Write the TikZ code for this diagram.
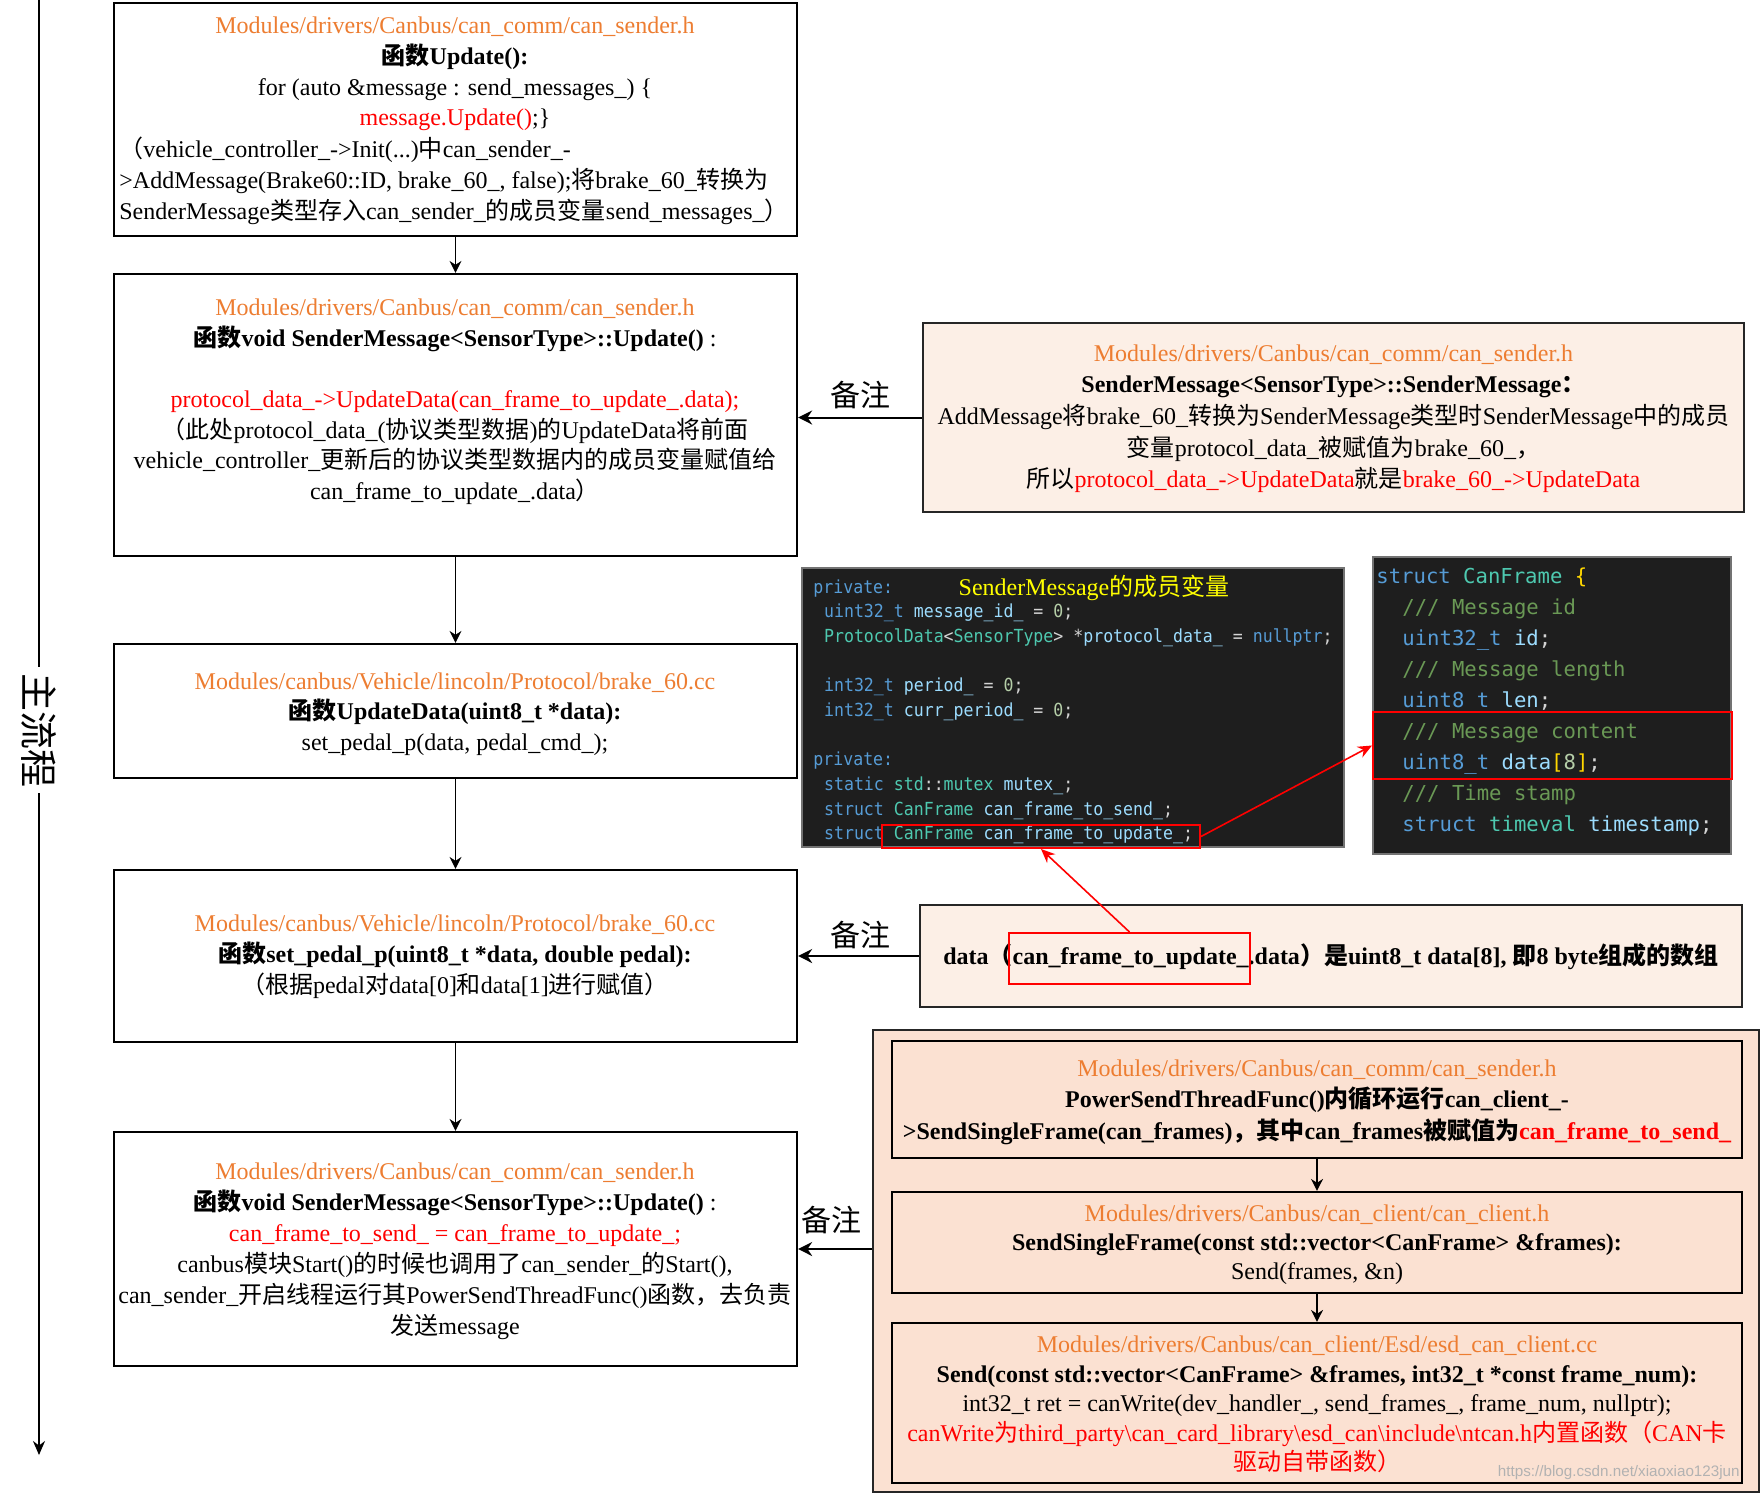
\documentclass[tikz,border=0pt]{standalone}
\usepackage{fontspec}
\usetikzlibrary{arrows.meta,fit}
\setmainfont{Liberation Serif}
\newfontfamily\cjkfont{Noto Sans CJK SC}
\newfontfamily\codefontA{DejaVu Sans Mono}[FakeStretch=0.92]
\newfontfamily\codefontB{DejaVu Sans Mono}
\newfontfamily\wmfont{Liberation Sans}
\newcommand\zh[1]{{\cjkfont #1}}

\definecolor{pathor}{HTML}{ED7D31}
\definecolor{noteA}{RGB}{252,239,230}
\definecolor{outerfill}{RGB}{251,225,210}
\definecolor{codebg}{HTML}{1E1E1E}
\definecolor{ckw}{HTML}{569CD6}
\definecolor{cty}{HTML}{4EC9B0}
\definecolor{cid}{HTML}{9CDCFE}
\definecolor{cnum}{HTML}{B5CEA8}
\definecolor{cpun}{HTML}{D4D4D4}
\definecolor{ccom}{HTML}{6A9955}
\definecolor{cbr}{HTML}{FFD700}
\definecolor{ctitle}{RGB}{255,255,0}

\tikzset{
  box/.style={draw=black, line width=1.1pt, fill=white, inner sep=0pt},
  notebox/.style={draw=black!85, line width=1.1pt, fill=noteA, inner sep=0pt},
  outerbox/.style={draw=black!85, line width=1.1pt, fill=outerfill, inner sep=0pt},
  innerbox/.style={draw=black, line width=1.1pt, fill=outerfill, inner sep=0pt},
  codebox/.style={draw=black!55, line width=0.6pt, fill=codebg, inner sep=0pt},
  redbox/.style={draw=red, line width=1pt, inner sep=0pt},
  arr/.style={-{Stealth[length=6pt,width=6pt]}, line width=0.75pt},
  notearr/.style={-{Stealth[length=7pt,width=7pt]}, line width=1pt},
  redarr/.style={-{Stealth[length=7pt,width=6pt]}, draw=red, line width=0.8pt},
  mainarr/.style={-{Stealth[length=7pt,width=6pt]}, line width=1pt},
  txt/.style={align=center, inner sep=0pt},
  fs/.style={font={\fontsize{12}{#1}\selectfont}},
  notelbl/.style={inner sep=0pt, font={\cjkfont\fontsize{15}{18}\selectfont}},
  flowlbl/.style={inner sep=3pt, fill=white, font={\cjkfont\fontsize{19}{22}\selectfont}},
  codeA/.style={anchor=base west, inner sep=0pt, text=cpun, font={\codefontA\fontsize{9}{11}\selectfont}},
  codeB/.style={anchor=base west, inner sep=0pt, text=cpun, font={\codefontB\fontsize{10.3}{12}\selectfont}},
}

\begin{document}
\begin{tikzpicture}[x=0.5pt,y=-0.5pt]
\useasboundingbox (0,0) rectangle (1762,1495);

% ---------------- main flow line ----------------
\coordinate (mtop) at (39,0);
\coordinate (mbot) at (39,1455);
\draw[mainarr] (mtop) -- (mbot);
\node[flowlbl, rotate=-90] (flow) at (39,730) {主流程};

% ---------------- main boxes ----------------
\node[box, fit={(114,3) (797,236)}] (b1) {};
\node[box, fit={(114,274) (797,556)}] (b2) {};
\node[box, fit={(114,644) (797,778)}] (b3) {};
\node[box, fit={(114,870) (797,1042)}] (b4) {};
\node[box, fit={(114,1132) (797,1366)}] (b5) {};

\draw[arr] (b1.south) -- (b2.north);
\draw[arr] (b2.south) -- (b3.north);
\draw[arr] (b3.south) -- (b4.north);
\draw[arr] (b4.south) -- (b5.north);

\node[txt, fs=15.35pt] (t1a) at (455,74) {\textcolor{pathor}{Modules/drivers/Canbus/can\_comm/can\_sender.h}\\
\textbf{\zh{函数}Update():}\\
for (auto \&message : send\_messages\_) \{\\
\textcolor{red}{message.Update()};\}};
\node[align=left, inner sep=0pt, fs=15.35pt, anchor=west] (t1b) at (119,180.7) {\zh{（}vehicle\_controller\_->Init(...)\zh{中}can\_sender\_-\\
>AddMessage(Brake60::ID, brake\_60\_, false);\zh{将}brake\_60\_\zh{转换为}\\
SenderMessage\zh{类型存入}can\_sender\_\zh{的成员变量}send\_messages\_\zh{）}};

\node[txt, fs=15.3pt] (t2) at (455,402) {\textcolor{pathor}{Modules/drivers/Canbus/can\_comm/can\_sender.h}\\
\textbf{\zh{函数}void SenderMessage<SensorType>::Update()} :\\
\mbox{}\\
\textcolor{red}{protocol\_data\_->UpdateData(can\_frame\_to\_update\_.data);}\\
\zh{（此处}protocol\_data\_(\zh{协议类型数据})\zh{的}UpdateData\zh{将前面}\\
vehicle\_controller\_\zh{更新后的协议类型数据内的成员变量赋值给}\\
can\_frame\_to\_update\_.data\zh{）}};

\node[txt, fs=15.25pt] (t3) at (455,714) {\textcolor{pathor}{Modules/canbus/Vehicle/lincoln/Protocol/brake\_60.cc}\\
\textbf{\zh{函数}UpdateData(uint8\_t *data):}\\
set\_pedal\_p(data, pedal\_cmd\_);};

\node[txt, fs=15.5pt] (t4) at (455,957) {\textcolor{pathor}{Modules/canbus/Vehicle/lincoln/Protocol/brake\_60.cc}\\
\textbf{\zh{函数}set\_pedal\_p(uint8\_t *data, double pedal):}\\
\zh{（根据}pedal\zh{对}data[0]\zh{和}data[1]\zh{进行赋值）}};

\node[txt, fs=15.5pt] (t5) at (455,1251) {\textcolor{pathor}{Modules/drivers/Canbus/can\_comm/can\_sender.h}\\
\textbf{\zh{函数}void SenderMessage<SensorType>::Update()} :\\
\textcolor{red}{can\_frame\_to\_send\_ = can\_frame\_to\_update\_;}\\
canbus\zh{模块}Start()\zh{的时候也调用了}can\_sender\_\zh{的}Start(),\\
can\_sender\_\zh{开启线程运行其}PowerSendThreadFunc()\zh{函数，去负责}\\
\zh{发送}message};

% ---------------- note A ----------------
\node[notebox, fit={(923,323) (1744,512)}] (nA) {};
\node[txt, fs=15.85pt] (tA) at (1333.5,418.7) {\textcolor{pathor}{Modules/drivers/Canbus/can\_comm/can\_sender.h}\\
\textbf{SenderMessage<SensorType>::SenderMessage\zh{：}}\\
AddMessage\zh{将}brake\_60\_\zh{转换为}SenderMessage\zh{类型时}SenderMessage\zh{中的成员}\\
\zh{变量}protocol\_data\_\zh{被赋值为}brake\_60\_\zh{，}\\
\zh{所以}\textcolor{red}{protocol\_data\_->UpdateData}\zh{就是}\textcolor{red}{brake\_60\_->UpdateData}};
\draw[notearr] (nA.west) -- (nA.west -| b2.east);
\node[notelbl] (lA) at (860,395) {备注};

% ---------------- code box 1 ----------------
\node[codebox, fit={(802,568) (1344,847)}] (code1) {};
\node[codeA] (c1l0) at (813,593.2) {\textcolor{ckw}{private:}};
\node[anchor=center, inner sep=0pt, text=ctitle, font={\fontsize{12}{14}\selectfont}] (c1title) at (1094,588) {SenderMessage\zh{的成员变量}};
\node[codeA] (c1l1) at (823.7,617.8) {\textcolor{ckw}{uint32\_t} \textcolor{cid}{message\_id\_} = \textcolor{cnum}{0};};
\node[codeA] (c1l2) at (823.7,642.5) {\textcolor{cty}{ProtocolData}<\textcolor{cty}{SensorType}> *\textcolor{cid}{protocol\_data\_} = \textcolor{ckw}{nullptr};};
\node[codeA] (c1l4) at (823.7,691.8) {\textcolor{ckw}{int32\_t} \textcolor{cid}{period\_} = \textcolor{cnum}{0};};
\node[codeA] (c1l5) at (823.7,716.5) {\textcolor{ckw}{int32\_t} \textcolor{cid}{curr\_period\_} = \textcolor{cnum}{0};};
\node[codeA] (c1l7) at (813,765.8) {\textcolor{ckw}{private:}};
\node[codeA] (c1l8) at (823.7,790.5) {\textcolor{ckw}{static} \textcolor{cty}{std}::\textcolor{cty}{mutex} \textcolor{cid}{mutex\_};};
\node[codeA] (c1l9) at (823.7,815.1) {\textcolor{ckw}{struct} \textcolor{cty}{CanFrame} \textcolor{cid}{can\_frame\_to\_send\_};};
\node[codeA] (c1l10) at (823.7,839.7) {\textcolor{ckw}{struct} \textcolor{cty}{CanFrame} \textcolor{cid}{can\_frame\_to\_update\_};};
\node[redbox, fit={(882,825) (1200,848)}] (r1) {};

% ---------------- code box 2 ----------------
\node[codebox, fit={(1373,557) (1731,854)}] (code2) {};
\node[codeB] (c2l0) at (1376,583) {\textcolor{ckw}{struct} \textcolor{cty}{CanFrame} \textcolor{cbr}{\{}};
\node[codeB] (c2l1) at (1402,614) {\textcolor{ccom}{/// Message id}};
\node[codeB] (c2l2) at (1402,645) {\textcolor{ckw}{uint32\_t} \textcolor{cid}{id};};
\node[codeB] (c2l3) at (1402,676) {\textcolor{ccom}{/// Message length}};
\node[codeB] (c2l4) at (1402,707) {\textcolor{ckw}{uint8\_t} \textcolor{cid}{len};};
\node[codeB] (c2l5) at (1402,738) {\textcolor{ccom}{/// Message content}};
\node[codeB] (c2l6) at (1402,769) {\textcolor{ckw}{uint8\_t} \textcolor{cid}{data}\textcolor{cbr}{[}\textcolor{cnum}{8}\textcolor{cbr}{]};};
\node[codeB] (c2l7) at (1402,800) {\textcolor{ccom}{/// Time stamp}};
\node[codeB] (c2l8) at (1402,831) {\textcolor{ckw}{struct} \textcolor{cty}{timeval} \textcolor{cid}{timestamp};};
\node[redbox, fit={(1373,712) (1732,779)}] (r2) {};
\draw[redarr] (r1.east) -- (r2.west);

% ---------------- note B ----------------
\node[notebox, fit={(920,905) (1742,1007)}] (nB) {};
\node[inner sep=0pt, font={\fontsize{12}{14}\selectfont\bfseries}] (tB) at (1331,957) {data\zh{（}can\_frame\_to\_update\_.data\zh{）是}uint8\_t data[8], \zh{即}8 byte\zh{组成的数组}};
\node[redbox, fit={(1009,933) (1250,984)}] (rB) {};
\draw[redarr] (rB.north) -- (r1.south);
\draw[notearr] (nB.west) -- (nB.west -| b4.east);
\node[notelbl] (lB) at (860,935) {备注};

% ---------------- outer group ----------------
\node[outerbox, fit={(873,1030) (1759,1492)}] (outer) {};
\node[innerbox, fit={(892,1041) (1742,1158)}] (i1) {};
\node[innerbox, fit={(892,1192) (1742,1293)}] (i2) {};
\node[innerbox, fit={(892,1323) (1742,1483)}] (i3) {};
\draw[arr] (i1.south) -- (i2.north);
\draw[arr] (i2.south) -- (i3.north);

\node[txt, fs=15.8pt] (ti1) at (1317,1102) {\textcolor{pathor}{Modules/drivers/Canbus/can\_comm/can\_sender.h}\\
\textbf{PowerSendThreadFunc()\zh{内循环运行}can\_client\_-}\\
\textbf{>SendSingleFrame(can\_frames)\zh{，其中}can\_frames\zh{被赋值为}\textcolor{red}{can\_frame\_to\_send\_}}};
\node[txt, fs=14.4pt] (ti2) at (1317,1245) {\textcolor{pathor}{Modules/drivers/Canbus/can\_client/can\_client.h}\\
\textbf{SendSingleFrame(const std::vector<CanFrame> \&frames):}\\
Send(frames, \&n)};
\node[txt, fs=14.8pt] (ti3) at (1317,1404.5) {\textcolor{pathor}{Modules/drivers/Canbus/can\_client/Esd/esd\_can\_client.cc}\\
\textbf{Send(const std::vector<CanFrame> \&frames, int32\_t *const frame\_num):}\\
int32\_t ret = canWrite(dev\_handler\_, send\_frames\_, frame\_num, nullptr);\\
\textcolor{red}{canWrite\zh{为}third\_party\textbackslash can\_card\_library\textbackslash esd\_can\textbackslash include\textbackslash ntcan.h\zh{内置函数（}CAN\zh{卡}}\\
\textcolor{red}{\zh{驱动自带函数）}}};

\draw[notearr] (b5.east -| outer.west) -- (b5.east);
\node[notelbl] (lC) at (831,1220) {备注};

% watermark
\node[anchor=east, inner sep=0pt, text=black!30, font={\wmfont\fontsize{7.6}{9}\selectfont}] (wm) at (1740,1473) {https://blog.csdn.net/xiaoxiao123jun};
\end{tikzpicture}
\end{document}
